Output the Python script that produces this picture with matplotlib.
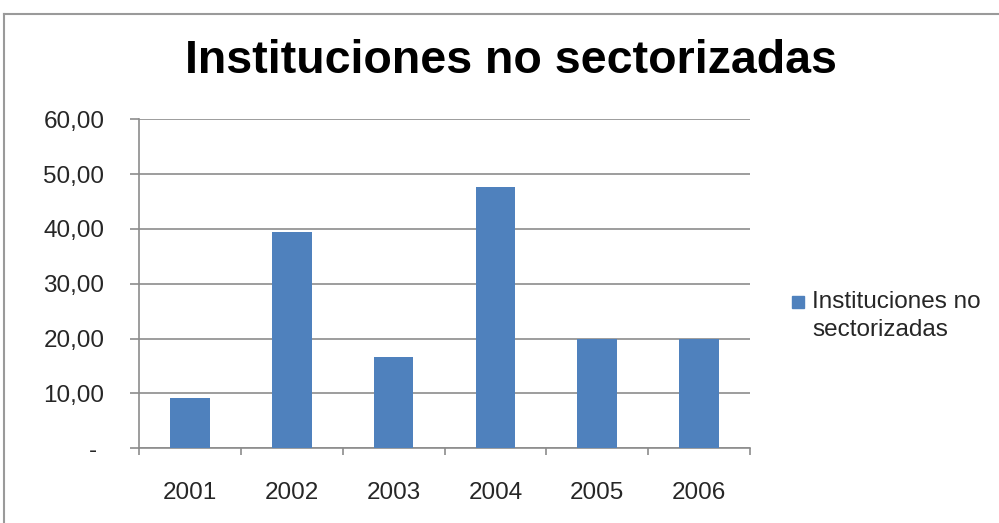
import matplotlib
matplotlib.use('Agg')
import matplotlib.pyplot as pyplot
from matplotlib.lines import Line2D
from matplotlib.patches import Rectangle
from matplotlib.ticker import FixedLocator
import numpy as np

years = ['2001', '2002', '2003', '2004', '2005', '2006']
values = [9.2, 39.4, 16.6, 47.6, 19.9, 19.9]
yticks = [0, 10, 20, 30, 40, 50, 60]
yticklabels = ['- ', '10,00', '20,00', '30,00', '40,00', '50,00', '60,00']
series_name = 'Instituciones no\nsectorizadas'
title = 'Instituciones no sectorizadas'

bar_color = '#4F81BD'
grid_color = '#8C8C8C'
text_color = '#262626'

pyplot.rcParams['font.family'] = ['Liberation Sans', 'DejaVu Sans']

W, H = 999, 523
fig = pyplot.figure(figsize=(W / 100, H / 100), dpi=100)
ax = fig.add_axes([139 / W, 1 - 448.3 / H, 611 / W, (448.3 - 119.3) / H])

x = np.arange(len(years))
ax.bar(x, values, width=0.39, color=bar_color, label=series_name, zorder=3)

ax.set_xlim(-0.5, len(years) - 0.5)
ax.set_ylim(0, 60)
ax.set_yticks(yticks)
ax.set_yticklabels(yticklabels)
ax.set_xticks(x)
ax.set_xticklabels(years)
ax.xaxis.set_minor_locator(FixedLocator(np.arange(len(years) + 1) - 0.5))

ax.yaxis.grid(True, color=grid_color, linewidth=1.2, zorder=0)
for s in ['top', 'right']:
    ax.spines[s].set_visible(False)
for s in ['left', 'bottom']:
    ax.spines[s].set_color(grid_color)
    ax.spines[s].set_linewidth(1.2)

ax.tick_params(axis='y', length=6.5, width=1.2, color=grid_color, pad=18.5,
               labelsize=17.5, labelcolor=text_color)
ax.tick_params(axis='x', which='major', length=0, pad=24,
               labelsize=17.5, labelcolor=text_color)
ax.tick_params(axis='x', which='minor', length=5, width=1.2, color=grid_color)

fig.text(511 / W, 1 - 61 / H, title, ha='center', va='center',
         fontsize=33.5, fontweight='bold', color='black')

# legend: square key aligned with the first line of the two-line label
fig.add_artist(Rectangle((792 / W, 1 - 308 / H), 12 / W, 12 / H,
                         transform=fig.transFigure, color=bar_color))
fig.text(812 / W, 1 - 308 / H, series_name.split('\n')[0], ha='left', va='baseline',
         fontsize=17.5, color=text_color)
fig.text(812 / W, 1 - 336 / H, series_name.split('\n')[1], ha='left', va='baseline',
         fontsize=17.5, color=text_color)

# chart area border (top and left visible)
fig.add_artist(Line2D([4 / W, 4 / W], [0, 1 - 14 / H], transform=fig.transFigure,
                      color='#9A9A9A', linewidth=1.5))
fig.add_artist(Line2D([4 / W, 1], [1 - 14 / H, 1 - 14 / H], transform=fig.transFigure,
                      color='#9A9A9A', linewidth=1.5))

pyplot.savefig('out.png', dpi=100)
